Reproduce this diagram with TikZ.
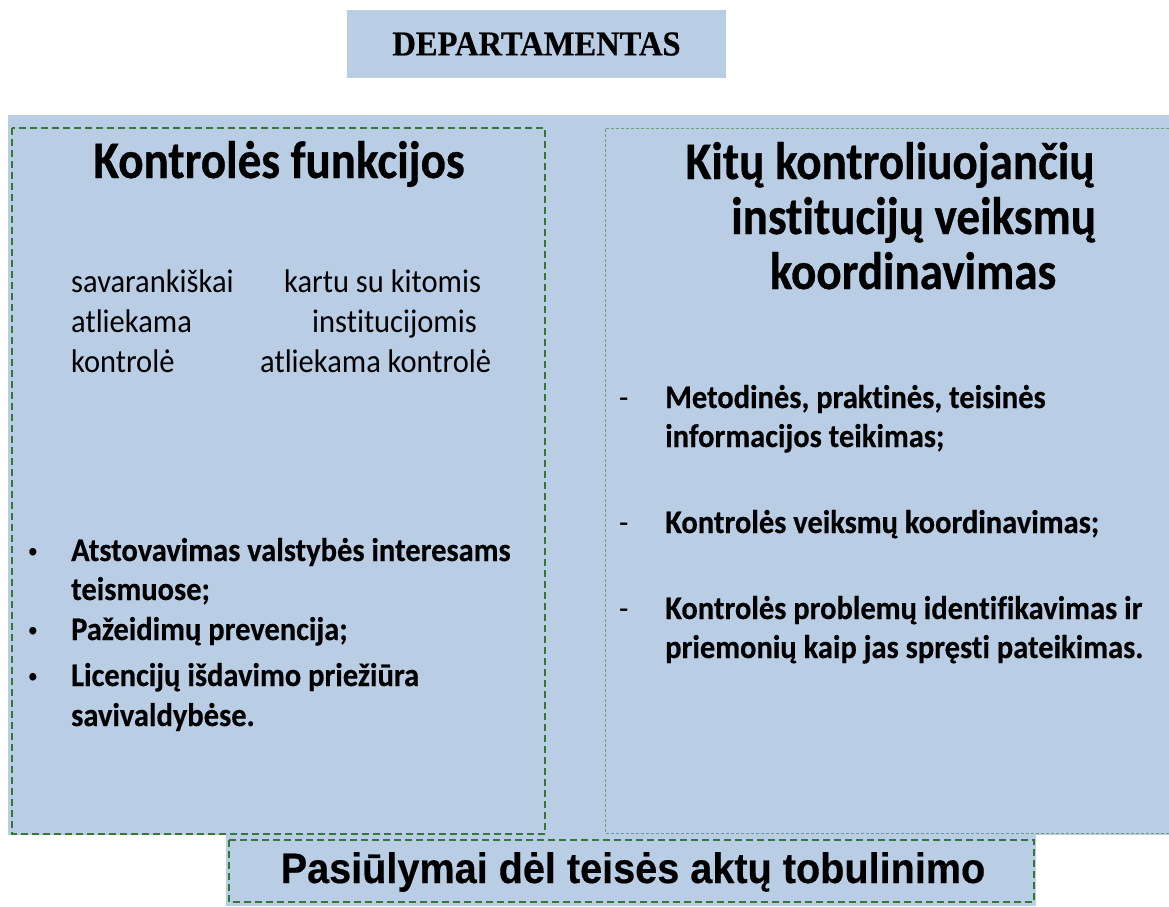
\documentclass[tikz,border=0pt]{standalone}
\usepackage{fontspec}
\setmainfont{Carlito}[FakeStretch=0.93, Ligatures=NoCommon, BoldFeatures={FakeBold=0.4}]
\newfontfamily\titlefont{Carlito}[FakeStretch=0.89, Ligatures=NoCommon, BoldFeatures={FakeBold=0.6}]
\newfontfamily\headfont{Liberation Serif}[FakeStretch=0.93, BoldFeatures={FakeBold=0.4}]
\newfontfamily\footfont{Liberation Sans}[FakeStretch=0.93, BoldFeatures={FakeBold=0.4}]
\definecolor{panelblue}{RGB}{185,205,228}
\definecolor{edgegreen}{RGB}{52,120,52}
\definecolor{softgreen}{RGB}{110,160,120}
\begin{document}
\begin{tikzpicture}[x=1pt, y=-1pt,
    paneltitle/.style={font=\titlefont\fontsize{52.8}{55}\selectfont\bfseries, anchor=base, inner sep=0pt},
    body/.style={font=\fontsize{32.8}{40}\selectfont, anchor=base west, inner sep=0pt},
    item/.style={body, font=\fontsize{32.8}{40}\selectfont\bfseries},
    boldedge/.style={edgegreen, line width=1.8pt, dash pattern={on 7pt off 4pt}},
    thinedge/.style={softgreen, line width=0.9pt, dash pattern={on 3pt off 2pt}}]
    \useasboundingbox (0,0) rectangle (1169,906);
    % header
    \node[fill=panelblue, minimum width=379pt, minimum height=68pt, inner sep=0pt,
          font=\headfont\fontsize{35}{40}\selectfont\bfseries] (dept) at (536.5,44) {DEPARTAMENTAS};
    % panels
    \fill[panelblue] (8,115) rectangle (1169,835);
    \fill[panelblue] (226,834) rectangle (1036,906);
    \draw[boldedge] (12,128) rectangle (545,834);
    \draw[thinedge] (1169,128) -- (605,128) -- (605,833) -- (1169,833);
    \draw[boldedge] (229,840) rectangle (1034,902);
    % left panel
    \node[paneltitle] (ltitle) at (279,178) {Kontrolės funkcijos};
    \node[body] (own1) at (71,292) {savarankiškai};
    \node[body] (own2) at (71,332) {atliekama};
    \node[body] (own3) at (71,372) {kontrolė};
    \node[body] (joint1) at (284,292) {kartu su kitomis};
    \node[body] (joint2) at (312,332) {institucijomis};
    \node[body] (joint3) at (260,372) {atliekama kontrolė};
    \foreach \y/\n in {561/1, 640/2, 686/3}
        \node[body, anchor=base, font=\footfont\fontsize{28}{30}\selectfont] (dot\n) at (33,\y) {•};
    \node[item] (duty1) at (71,561) {Atstovavimas valstybės interesams};
    \node[item] (duty1b) at (71,600) {teismuose;};
    \node[item] (duty2) at (71,640) {Pažeidimų prevencija;};
    \node[item] (duty3) at (71,686) {Licencijų išdavimo priežiūra};
    \node[item] (duty3b) at (71,726) {savivaldybėse.};
    % right panel
    \node[paneltitle] (rtitle1) at (890,179) {Kitų kontroliuojančių};
    \node[paneltitle] (rtitle2) at (913.5,234) {institucijų veiksmų};
    \node[paneltitle] (rtitle3) at (913,289) {koordinavimas};
    \foreach \y/\n in {408/1, 533/2, 619/3}
        \node[body] (dash\n) at (619,\y) {-};
    \node[item] (task1) at (665,408) {Metodinės, praktinės, teisinės};
    \node[item] (task1b) at (665,447) {informacijos teikimas;};
    \node[item] (task2) at (665,533) {Kontrolės veiksmų koordinavimas;};
    \node[item] (task3) at (665,619) {Kontrolės problemų identifikavimas ir};
    \node[item] (task3b) at (665,658) {priemonių kaip jas spręsti pateikimas.};
    % footer
    \node[font=\footfont\fontsize{42.6}{48}\selectfont\bfseries, anchor=base, inner sep=0pt]
        (proposal) at (633,883) {Pasiūlymai dėl teisės aktų tobulinimo};
\end{tikzpicture}
\end{document}
